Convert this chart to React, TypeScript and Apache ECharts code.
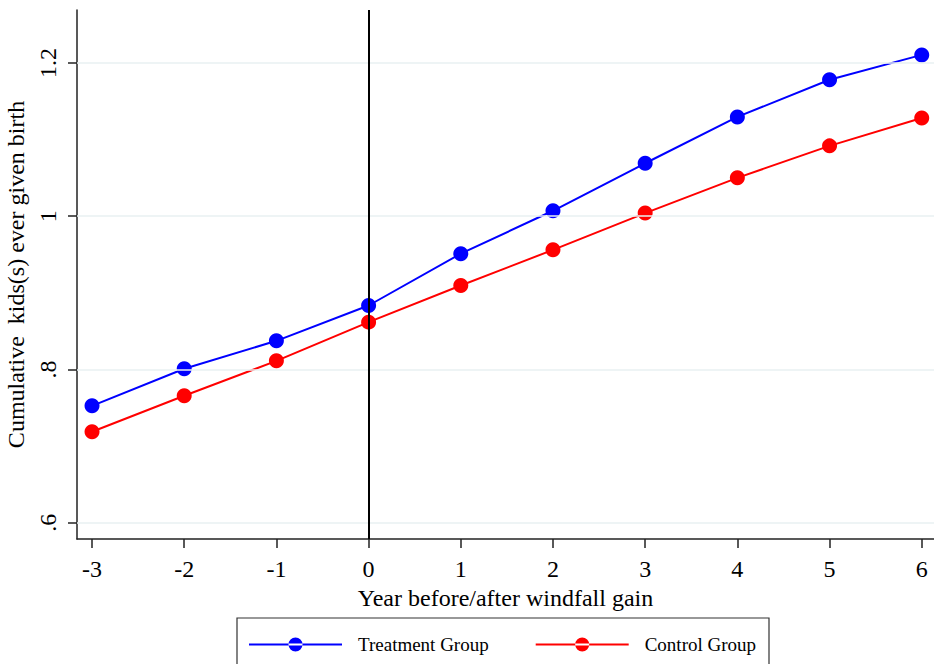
import React, { useEffect, useRef } from "react";
import * as echarts from "echarts";

const years = [-3, -2, -1, 0, 1, 2, 3, 4, 5, 6];
const treatment = [0.7525, 0.8008, 0.8373, 0.8834, 0.951, 1.007, 1.069, 1.1295, 1.178, 1.2104];
const control = [0.7186, 0.7656, 0.8112, 0.8617, 0.9095, 0.956, 1.004, 1.05, 1.0917, 1.128];
const yTicks = [0.6, 0.8, 1, 1.2];
const seriesNames = ["Treatment Group", "Control Group"];

const FONT = "Liberation Serif";

function iconPath() {
  return "path://M0,6.1H93V7.9H0Z M39.5,7a7,7 0 1,0 14,0a7,7 0 1,0 -14,0Z";
}

export default function App() {
  const ref = useRef<HTMLDivElement>(null);
  useEffect(() => {
    if (!ref.current) return;
    const chart = echarts.init(ref.current, null, { renderer: "svg" });
    const option: any = {
      animation: false,
      backgroundColor: "#ffffff",
      textStyle: { fontFamily: FONT },
      grid: {
        left: 77,
        right: 0,
        top: 10,
        bottom: 664 - 539,
        containLabel: false,
        outerBoundsMode: "none",
      },
      xAxis: {
        type: "value",
        min: -3.163,
        max: 6.133,
        name: "Year before/after windfall gain",
        nameLocation: "middle",
        nameGap: 41,
        nameTextStyle: { fontFamily: FONT, fontSize: 24, color: "#000" },
        axisLine: { show: true, onZero: false, lineStyle: { color: "#222", width: 1.5 } },
        axisTick: { show: true, length: 9, customValues: years, lineStyle: { color: "#222", width: 1.5 } },
        axisLabel: {
          customValues: years,
          margin: 18,
          fontFamily: FONT,
          fontSize: 24,
          color: "#000",
          formatter: (v: number) => String(v),
        },
        splitLine: { show: false },
      },
      yAxis: {
        type: "value",
        min: 0.5787,
        max: 1.269,
        name: "Cumulative  kids(s) ever given birth",
        nameLocation: "middle",
        nameGap: 43,
        nameTextStyle: { fontFamily: FONT, fontSize: 24, color: "#000" },
        axisLine: { show: true, onZero: false, lineStyle: { color: "#222", width: 1.5 } },
        axisTick: { show: true, length: 9, customValues: yTicks, lineStyle: { color: "#222", width: 1.5 } },
        axisLabel: {
          customValues: yTicks,
          rotate: 90,
          margin: 17,
          fontFamily: FONT,
          fontSize: 24,
          color: "#000",
          formatter: (v: number) => {
            const s = String(Math.round(v * 10) / 10);
            return s.startsWith("0.") ? s.slice(1) : s;
          },
        },
        splitLine: { show: false },
      },
      legend: {
        left: 249,
        top: 635,
        padding: 0,
        itemWidth: 93,
        itemHeight: 14,
        itemGap: 47,
        selectedMode: false,
        data: seriesNames.map((n) => ({ name: n, icon: iconPath() })),
        textStyle: { fontFamily: FONT, fontSize: 19, color: "#000", padding: [0, 0, 0, 11] },
      },
      graphic: [
        {
          type: "rect",
          shape: { x: 237, y: 618, width: 532, height: 60 },
          style: { fill: "none", stroke: "#333", lineWidth: 1.2 },
          z: 0,
        },
      ],
      series: [
        {
          type: "line",
          name: "__ref",
          data: [],
          z: 1,
          silent: true,
          markLine: {
            silent: true,
            symbol: "none",
            label: { show: false },
            animation: false,
            data: [
              ...yTicks.map((t) => ({ yAxis: t, lineStyle: { color: "#e8f0f2", width: 1.5, type: "solid" } })),
              { xAxis: 0, lineStyle: { color: "#000", width: 2, type: "solid" } },
            ],
          },
        },
        {
          type: "line",
          name: seriesNames[0],
          data: years.map((x, i) => [x, treatment[i]]),
          z: 3,
          symbol: "circle",
          symbolSize: 15,
          color: "#0000ff",
          lineStyle: { color: "#0000ff", width: 2 },
          itemStyle: { color: "#0000ff" },
        },
        {
          type: "line",
          name: seriesNames[1],
          data: years.map((x, i) => [x, control[i]]),
          z: 3,
          symbol: "circle",
          symbolSize: 15,
          color: "#ff0000",
          lineStyle: { color: "#ff0000", width: 2 },
          itemStyle: { color: "#ff0000" },
        },
      ],
    };
    chart.setOption(option);
    return () => chart.dispose();
  }, []);
  return (
    <div
      ref={ref}
      style={{ position: "absolute", left: 0, top: 0, width: 934, height: 664 }}
    />
  );
}
